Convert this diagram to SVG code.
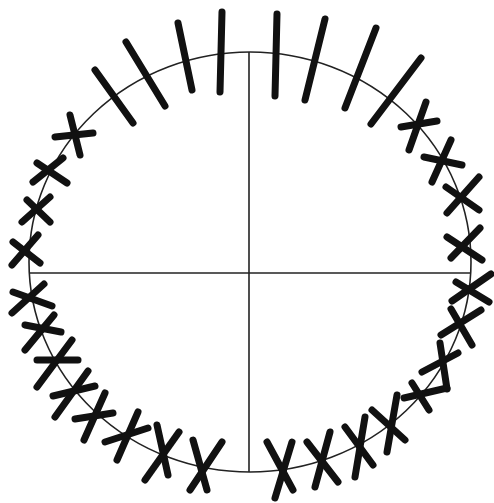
<svg xmlns="http://www.w3.org/2000/svg" width="494" height="503" viewBox="0 0 494 503">
<style>
.thin{fill:none;stroke:#222;stroke-width:1.6}
.m{fill:none;stroke:#111;stroke-width:7;stroke-linecap:round}
</style>
<rect width="494" height="503" fill="#fff"/>
<g id="frame">
<ellipse class="thin" cx="250" cy="262" rx="221" ry="210"/>
<line class="thin" x1="249" y1="52" x2="249" y2="472"/>
<line class="thin" x1="30" y1="273" x2="470" y2="273"/>
</g>
<g id="marks-top">
<g id="t1"><line class="m" x1="95" y1="70" x2="133" y2="123"/></g>
<g id="t2"><line class="m" x1="126" y1="42" x2="165" y2="106"/></g>
<g id="t3"><line class="m" x1="178" y1="23" x2="192" y2="90"/></g>
<g id="t4"><line class="m" x1="222" y1="12" x2="220" y2="92"/></g>
<g id="t5"><line class="m" x1="277" y1="14" x2="275" y2="96"/></g>
<g id="t6"><line class="m" x1="325" y1="19" x2="305" y2="100"/></g>
<g id="t7"><line class="m" x1="376" y1="28" x2="345" y2="108"/></g>
<g id="t8"><line class="m" x1="421" y1="58" x2="371" y2="124"/></g>
</g>
<g id="marks-left">
<g id="l1"><line class="m" x1="70" y1="115" x2="80" y2="155"/><line class="m" x1="55" y1="137" x2="93" y2="133"/></g>
<g id="l2"><line class="m" x1="63" y1="158" x2="33" y2="182"/><line class="m" x1="37" y1="163" x2="67" y2="183"/></g>
<g id="l3"><line class="m" x1="50" y1="197" x2="22" y2="222"/><line class="m" x1="27" y1="200" x2="50" y2="222"/></g>
<g id="l4"><line class="m" x1="38" y1="235" x2="12" y2="265"/><line class="m" x1="13" y1="242" x2="40" y2="263"/></g>
<g id="l5"><line class="m" x1="44" y1="284" x2="12" y2="313"/><line class="m" x1="13" y1="292" x2="52" y2="306"/></g>
<g id="l6"><line class="m" x1="54" y1="315" x2="25" y2="350"/><line class="m" x1="25" y1="325" x2="61" y2="332"/></g>
<g id="l7"><line class="m" x1="72" y1="340" x2="37" y2="387"/><line class="m" x1="37" y1="360" x2="78" y2="360"/></g>
<g id="l8"><line class="m" x1="88" y1="371" x2="55" y2="417"/><line class="m" x1="53" y1="396" x2="95" y2="386"/></g>
<g id="l9"><line class="m" x1="105" y1="393" x2="84" y2="440"/><line class="m" x1="75" y1="419" x2="113" y2="413"/></g>
<g id="l10"><line class="m" x1="138" y1="412" x2="117" y2="460"/><line class="m" x1="105" y1="442" x2="148" y2="428"/></g>
<g id="l11"><line class="m" x1="179" y1="432" x2="145" y2="480"/><line class="m" x1="157" y1="425" x2="168" y2="475"/></g>
<g id="l12"><line class="m" x1="222" y1="442" x2="190" y2="490"/><line class="m" x1="193" y1="440" x2="207" y2="490"/></g>
</g>
<g id="marks-right">
<g id="r1"><line class="m" x1="426" y1="102" x2="409" y2="150"/><line class="m" x1="401" y1="127" x2="437" y2="121"/></g>
<g id="r2"><line class="m" x1="451" y1="140" x2="432" y2="182"/><line class="m" x1="424" y1="157" x2="462" y2="165"/></g>
<g id="r3"><line class="m" x1="479" y1="177" x2="447" y2="213"/><line class="m" x1="446" y1="187" x2="479" y2="210"/></g>
<g id="r4"><line class="m" x1="480" y1="228" x2="451" y2="258"/><line class="m" x1="447" y1="237" x2="482" y2="260"/></g>
<g id="r5"><line class="m" x1="491" y1="274" x2="452" y2="301"/><line class="m" x1="456" y1="282" x2="489" y2="302"/></g>
<g id="r6"><line class="m" x1="481" y1="310" x2="441" y2="335"/><line class="m" x1="451" y1="309" x2="472" y2="345"/></g>
<g id="r7"><line class="m" x1="458" y1="353" x2="422" y2="372"/><line class="m" x1="440" y1="343" x2="447" y2="389"/></g>
<g id="r8"><line class="m" x1="404" y1="398" x2="447" y2="388"/><line class="m" x1="412" y1="383" x2="429" y2="410"/></g>
<g id="r9"><line class="m" x1="397" y1="395" x2="387" y2="452"/><line class="m" x1="372" y1="410" x2="405" y2="440"/></g>
<g id="r10"><line class="m" x1="365" y1="417" x2="355" y2="477"/><line class="m" x1="345" y1="427" x2="373" y2="465"/></g>
<g id="r11"><line class="m" x1="330" y1="432" x2="315" y2="487"/><line class="m" x1="307" y1="442" x2="338" y2="482"/></g>
<g id="r12"><line class="m" x1="292" y1="442" x2="275" y2="498"/><line class="m" x1="267" y1="442" x2="293" y2="490"/></g>
</g>
</svg>
